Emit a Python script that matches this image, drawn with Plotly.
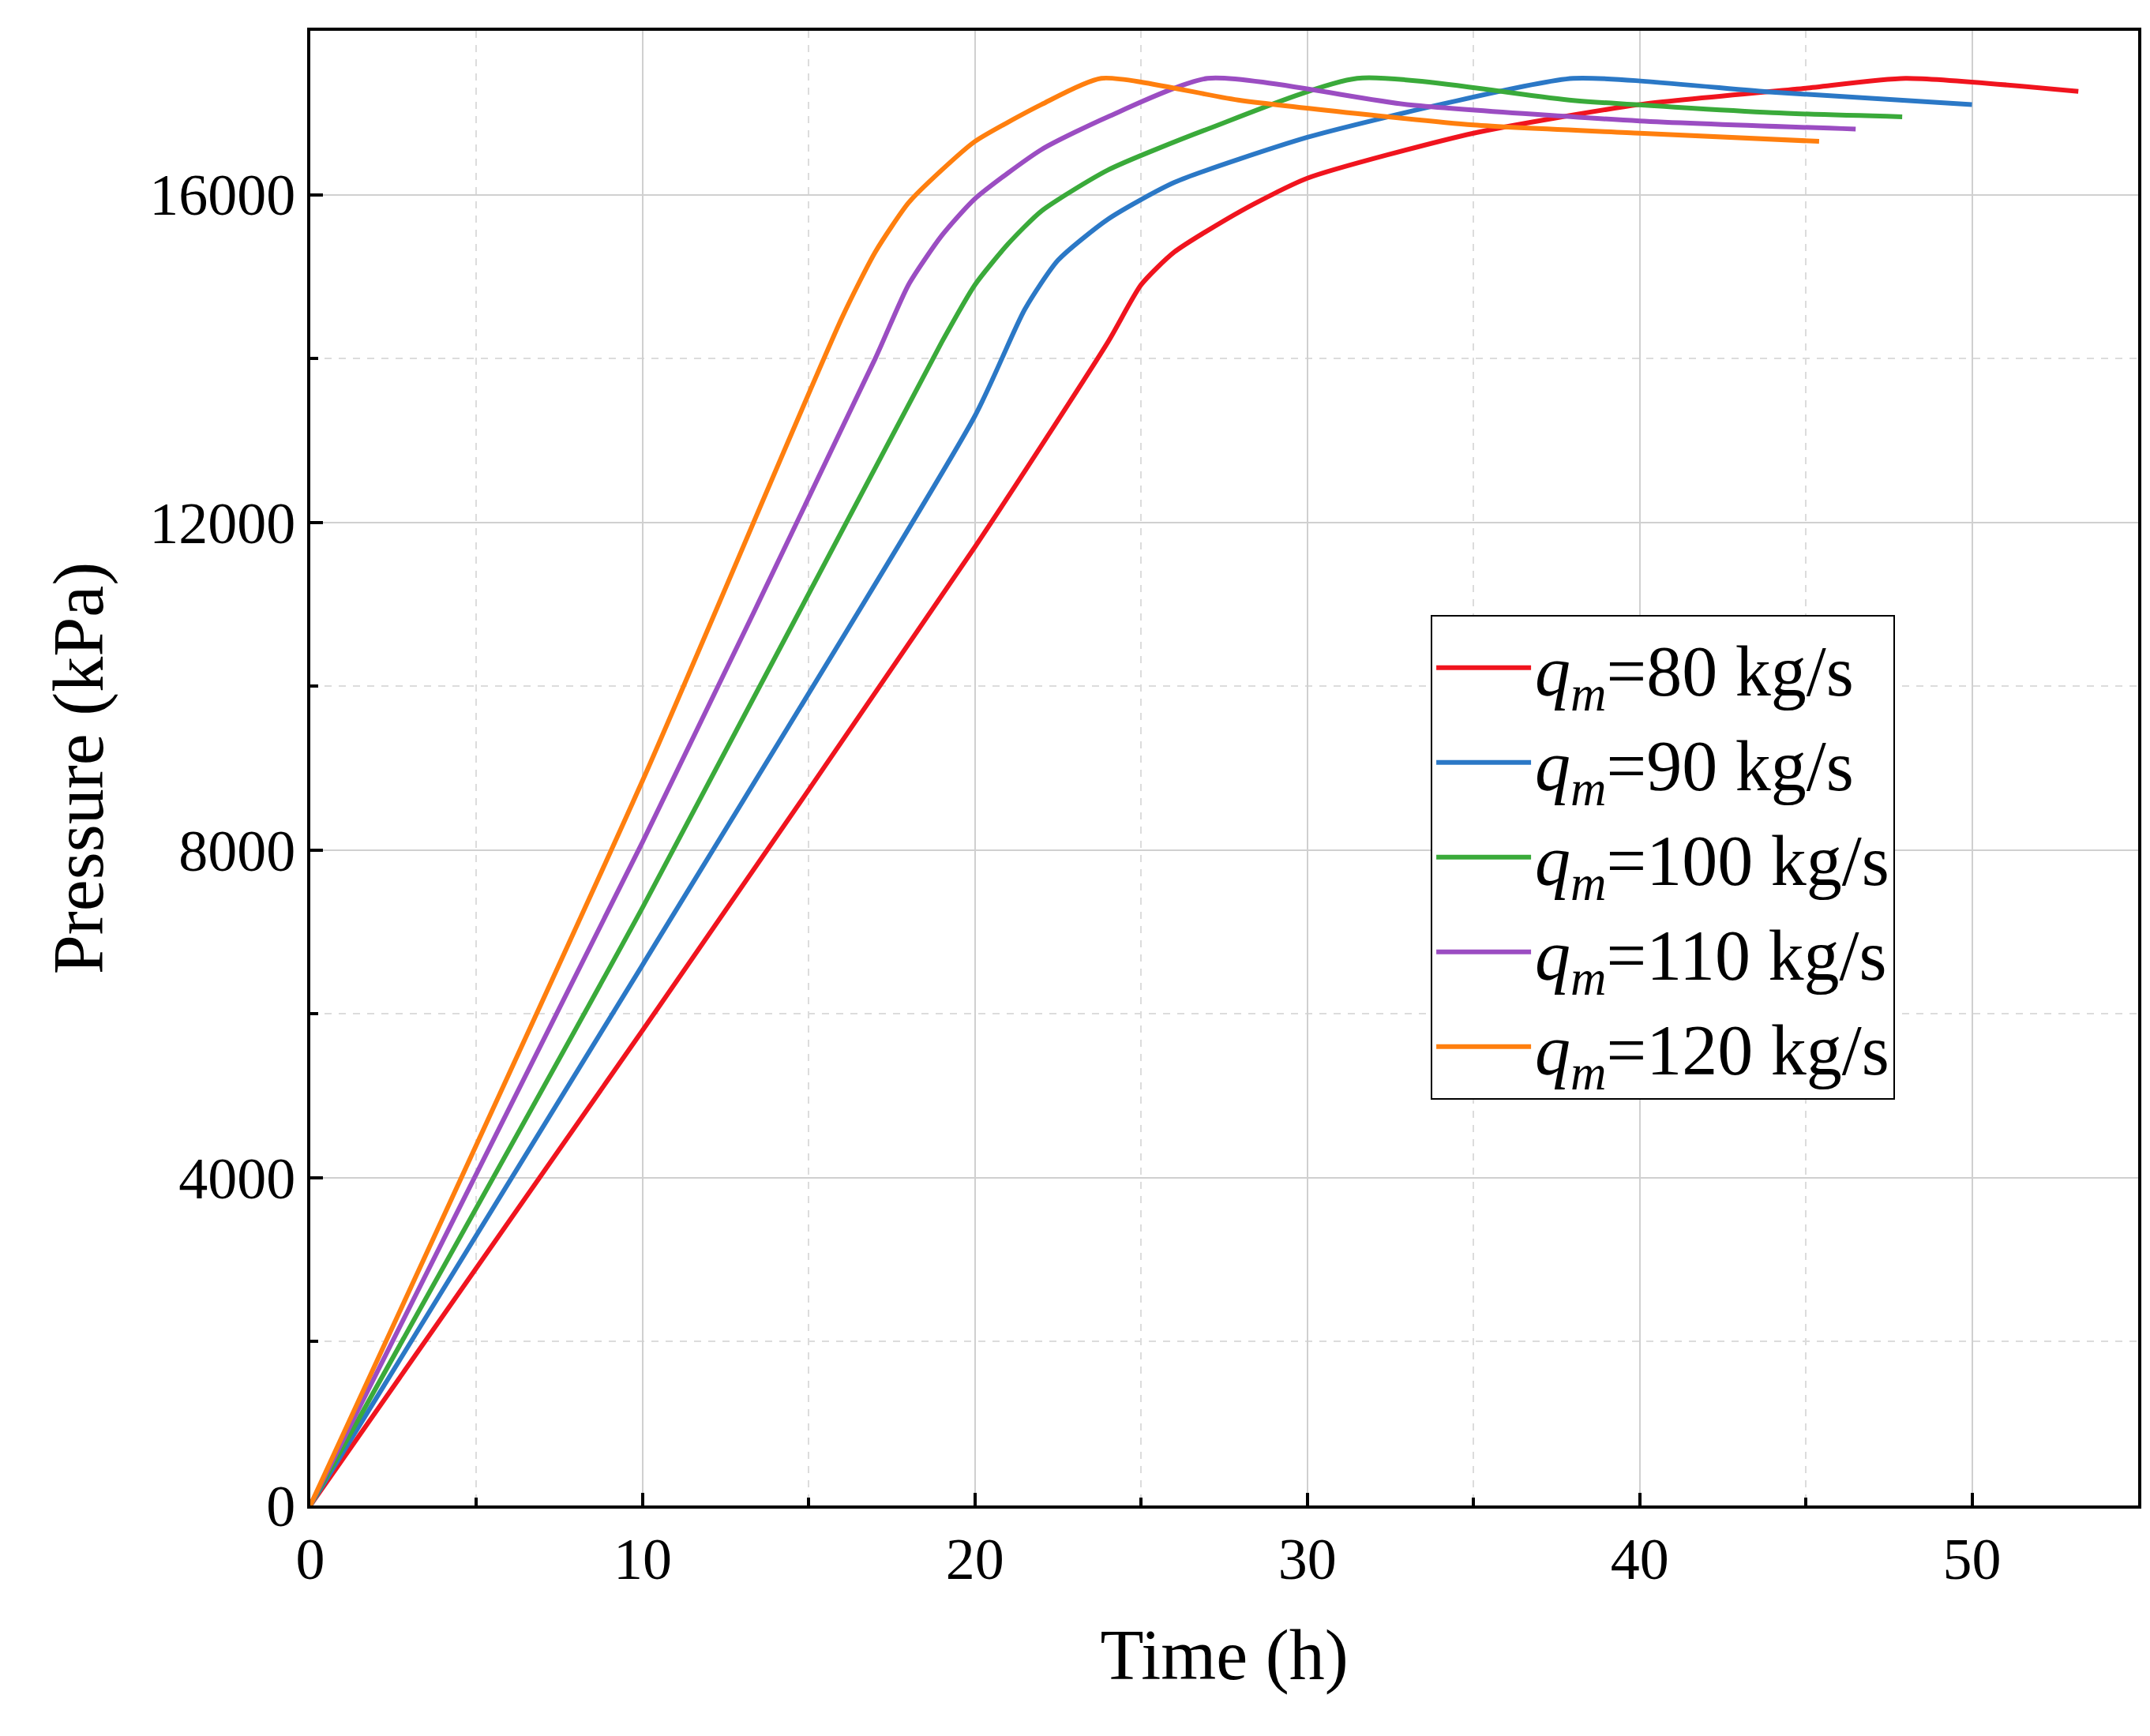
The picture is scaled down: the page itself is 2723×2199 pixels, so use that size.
import plotly.graph_objects as go

labels = ["80", "90", "100", "110", "120"]
colors = ["#f0141e", "#2b78c6", "#3aaa3a", "#9b4dc2", "#ff7f0e"]

t80 = [0, 10, 20, 24, 25, 26, 28, 30, 35, 40, 45, 48, 53.2]
p80 = [0, 5800, 11700, 14200, 14900, 15300, 15800, 16200, 16750, 17100, 17300, 17420, 17260]
t90 = [0, 10, 20, 21.5, 22.5, 24, 26, 30, 34, 38, 44, 50]
p90 = [0, 6600, 13300, 14600, 15200, 15700, 16150, 16700, 17100, 17420, 17250, 17100]
t100 = [0, 10, 19, 20, 21, 22, 24, 27, 31.5, 38, 44, 47.9]
p100 = [0, 7300, 14200, 14900, 15400, 15800, 16300, 16800, 17420, 17150, 17000, 16950]
t110 = [0, 10, 17, 18, 19, 20, 22, 24, 27, 33, 40, 46.5]
p110 = [0, 8100, 14000, 14900, 15500, 15950, 16550, 16950, 17420, 17100, 16900, 16800]
t120 = [0, 10, 16, 17, 18, 19, 20, 22, 23.8, 28, 35, 40, 45.4]
p120 = [0, 8850, 14500, 15300, 15900, 16300, 16650, 17100, 17420, 17150, 16850, 16750, 16650]

series = [(t80, p80), (t90, p90), (t100, p100), (t110, p110), (t120, p120)]

fig = go.Figure()
for (t, p), lab, c in zip(series, labels, colors):
    fig.add_trace(go.Scatter(
        x=t, y=p, mode="lines", line=dict(color=c, width=6, shape="spline", smoothing=0.6),
        name=f"<i>q</i><sub><i>m</i></sub>={lab} kg/s",
    ))

font = "Liberation Serif, Times New Roman, serif"
axis = dict(
    showline=True, linewidth=4, linecolor="black", mirror=True,
    ticks="inside", ticklen=16, tickwidth=4, tickcolor="black",
    showgrid=True, gridcolor="#d0d0d0", gridwidth=2, zeroline=False,
    tickfont=dict(size=74, family=font, color="black"), tickformat="d",
)
fig.update_layout(
    width=2723, height=2199, plot_bgcolor="white", paper_bgcolor="white",
    margin=dict(l=385, r=23, t=31, b=300),
    font=dict(family=font, color="black"),
    xaxis=dict(axis, range=[0, 55], dtick=10,
               minor=dict(dtick=5, showgrid=True, gridcolor="#dcdcdc", griddash="dash",
                          ticks="inside", ticklen=10, tickcolor="black"),
               title=dict(text="Time (h)", font=dict(size=90, family=font), standoff=50)),
    yaxis=dict(axis, range=[0, 18000], dtick=4000,
               minor=dict(dtick=2000, showgrid=True, gridcolor="#dcdcdc", griddash="dash",
                          ticks="inside", ticklen=10, tickcolor="black"),
               title=dict(text="Pressure (kPa)", font=dict(size=90, family=font), standoff=30)),
    legend=dict(x=0.613, y=0.604, xanchor="left", yanchor="top",
                bordercolor="black", borderwidth=2, bgcolor="white", itemwidth=120,
                font=dict(size=90, family=font), tracegroupgap=0),
)

fig.write_html("out.html")
